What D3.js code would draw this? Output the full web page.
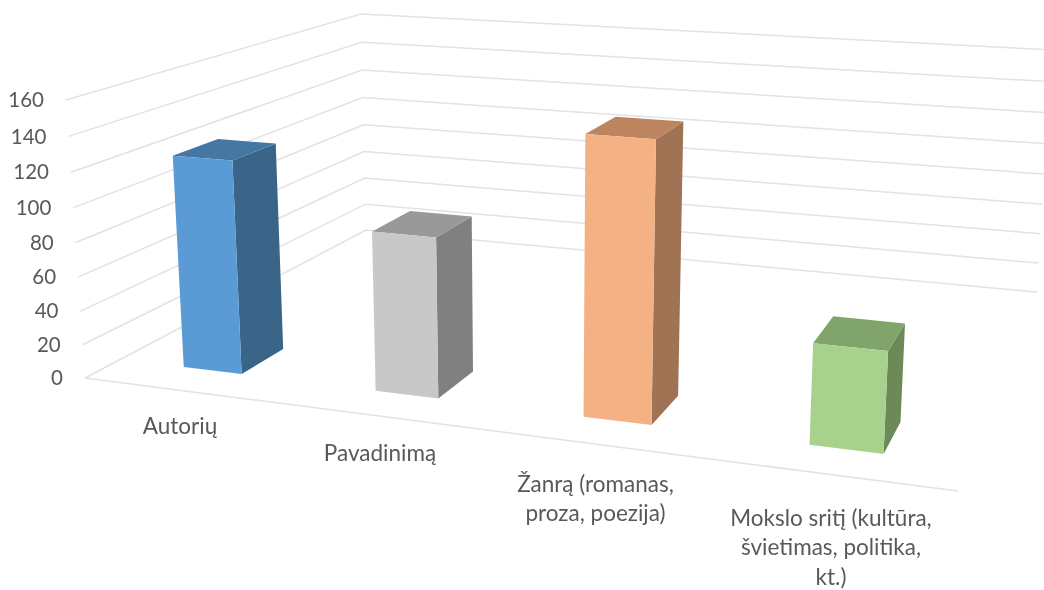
<!DOCTYPE html>
<html>
<head>
<meta charset="utf-8">
<script src="https://cdn.jsdelivr.net/npm/d3@7"></script>
<style>
	html, body { margin: 0; padding: 0; background: #fff; overflow: hidden; }
	text { font-family: Lato, "Open Sans", sans-serif; font-size: 20.5px; fill: #595959; }
	.cat text { font-size: 22.5px; }
</style>
</head>
<body>
<div id="chart"></div>
<script>
	// Data
	const categories = ["Autorių", "Pavadinimą", "Žanrą (romanas, proza, poezija)", "Mokslo sritį (kultūra, švietimas, politika, kt.)"];
	const values = [125, 92, 154, 55];
	const yTicks = [0, 20, 40, 60, 80, 100, 120, 140, 160];
	const categoryLines = [["Autorių"], ["Pavadinimą"], ["Žanrą (romanas,", "proza, poezija)"], ["Mokslo sritį (kultūra,", "švietimas, politika,", "kt.)"]];

	// Colours: front, side, top
	const frontColors = ["#5B9BD5", "#C8C8C8", "#F4B183", "#A9D18E"];
	const sideColors = ["#3A6589", "#808080", "#9F7353", "#6B8A58"];
	const topColors = ["#4577A5", "#999999", "#BC8560", "#81A36C"];
	const GRID = "#E2E2E2";

	const width = 1044;
	const height = 590;

	// Where the box of the chart lands on screen (front-left, front-right, back-right, back-left)
	const floorCorners = [[85, 378], [958, 491], [1037, 292], [366, 230]];
	const roofCorners = [[66, 100], [975, 166], [1052, 50], [361, 14]];
	const HEIGHT_WEIGHT = 0.95; // front gridlines bunch up slightly

	function homography(q) {
		const [[x0, y0], [x1, y1], [x2, y2], [x3, y3]] = q;
		const dx1 = x1 - x2, dx2 = x3 - x2, sx = x0 - x1 + x2 - x3;
		const dy1 = y1 - y2, dy2 = y3 - y2, sy = y0 - y1 + y2 - y3;
		const det = dx1 * dy2 - dx2 * dy1;
		const g = (sx * dy2 - dx2 * sy) / det;
		const h = (dx1 * sy - sx * dy1) / det;
		const a = x1 - x0 + g * x1, b = x3 - x0 + h * x3;
		const d = y1 - y0 + g * y1, e = y3 - y0 + h * y3;
		return (u, v) => {
			const w = g * u + h * v + 1;
			return [(a * u + b * v + x0) / w, (d * u + e * v + y0) / w];
		};
	}
	const floorAt = homography(floorCorners);
	const roofAt = homography(roofCorners);

	// Scales in box space, all 0..1
	const x = d3.scaleBand().domain(categories).range([0, 1]).paddingInner(0.69).paddingOuter(0.345);
	const y = d3.scaleLinear().domain([0, 160]).range([0, 1]);
	const z = d3.scaleLinear().domain([0, 1]).range([0.1, 0.236]); // bar depth

	function project(u, v, val) {
		const t = y(val);
		const s = (t * HEIGHT_WEIGHT) / (1 - t + t * HEIGHT_WEIGHT);
		const a = floorAt(u, v), b = roofAt(u, v);
		return [a[0] + (b[0] - a[0]) * s, a[1] + (b[1] - a[1]) * s];
	}

	const svg = d3.select("#chart").append("svg")
		.attr("width", width)
		.attr("height", height)
		.attr("viewBox", `0 0 ${width} ${height}`)
		.style("display", "block")
		.style("filter", "blur(0.45px)");

	const line = d3.line();
	const poly = pts => line(pts) + "Z";

	// Wall gridlines
	svg.append("g").selectAll("path").data(yTicks).join("path")
		.attr("d", t => line([project(0, 0, t), project(0, 1, t), project(1, 1, t)]))
		.attr("fill", "none")
		.attr("stroke", GRID)
		.attr("stroke-width", 1.5);

	// Front floor edge
	svg.append("path")
		.attr("d", line([project(0, 0, 0), project(1, 0, 0)]))
		.attr("fill", "none")
		.attr("stroke", GRID)
		.attr("stroke-width", 1.5);

	// Bars
	const bars = svg.append("g").selectAll("g").data(categories).join("g");
	const faces = (c, i) => {
		const u0 = x(c), u1 = x(c) + x.bandwidth();
		const v0 = z(0), v1 = z(1), val = values[i];
		return { u0, u1, v0, v1, val };
	};
	bars.append("path")
		.attr("d", (c, i) => {
			const f = faces(c, i);
			return poly([project(f.u1, f.v0, 0), project(f.u1, f.v1, 0), project(f.u1, f.v1, f.val), project(f.u1, f.v0, f.val)]);
		})
		.attr("fill", (c, i) => sideColors[i]);
	bars.append("path")
		.attr("d", (c, i) => {
			const f = faces(c, i);
			return poly([project(f.u0, f.v0, f.val), project(f.u1, f.v0, f.val), project(f.u1, f.v1, f.val), project(f.u0, f.v1, f.val)]);
		})
		.attr("fill", (c, i) => topColors[i]);
	bars.append("path")
		.attr("d", (c, i) => {
			const f = faces(c, i);
			return poly([project(f.u0, f.v0, 0), project(f.u1, f.v0, 0), project(f.u1, f.v0, f.val), project(f.u0, f.v0, f.val)]);
		})
		.attr("fill", (c, i) => frontColors[i]);

	// Value labels, hung off the left end of each gridline
	svg.append("g").selectAll("text").data(yTicks).join("text")
		.attr("x", t => project(0, 0, t)[0] - 22)
		.attr("y", t => project(0, 0, t)[1])
		.attr("dy", "0.35em")
		.attr("text-anchor", "end")
		.text(t => t);

	// Category labels
	const labelCentres = [[180, 426], [380, 453], [595.5, 484], [831, 518]];
	const LINE_H = 29.5;
	svg.append("g").attr("class", "cat").selectAll("text").data(categoryLines).join("text")
		.attr("text-anchor", "middle")
		.selectAll("tspan").data((lines, i) => lines.map((s, k) => ({ s, k, i }))).join("tspan")
		.attr("x", d => labelCentres[d.i][0])
		.attr("y", d => labelCentres[d.i][1] + d.k * LINE_H)
		.attr("dy", "0.35em")
		.text(d => d.s);
</script>
</body>
</html>
